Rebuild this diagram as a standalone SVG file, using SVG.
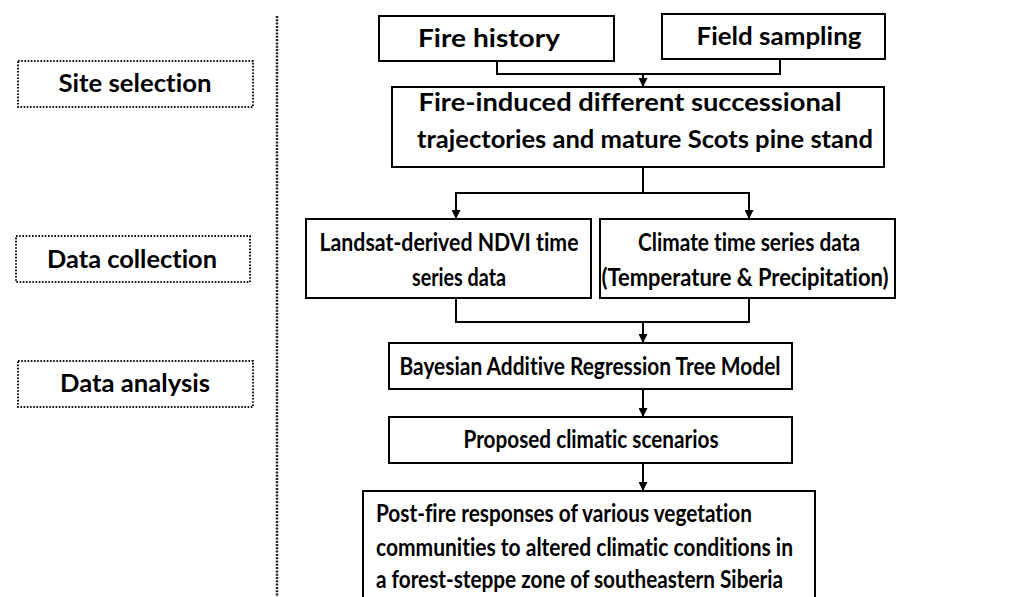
<svg xmlns="http://www.w3.org/2000/svg" width="1030" height="597" viewBox="0 0 1030 597">
<defs>
<style>
.box{fill:#fff;stroke:#000;stroke-width:2}
.dbox{fill:#fff;stroke:#111;stroke-width:2;stroke-dasharray:1.6 1.6}
.t{font-family:Lato,"Liberation Sans",sans-serif;font-weight:bold;font-size:24px;fill:#000;font-variant-ligatures:none;font-feature-settings:"liga" 0,"clig" 0}
.c{stroke:#000;stroke-width:2;fill:none}
</style>
<marker id="ah" viewBox="0 0 10 10" refX="10" refY="5" markerWidth="9" markerHeight="9" markerUnits="userSpaceOnUse" orient="auto">
<path d="M0,0 L10,5 L0,10 z" fill="#000"/>
</marker>
</defs>
<rect width="1030" height="597" fill="#fff"/>
<line x1="277" y1="16" x2="277" y2="597" stroke="#222" stroke-width="2.5" stroke-dasharray="2 1.3"/>
<g id="site-selection">
<rect class="dbox" x="18" y="61" width="235" height="46"/>
<text class="t" x="135" y="92" text-anchor="middle" textLength="153" lengthAdjust="spacingAndGlyphs">Site selection</text>
</g>
<g id="data-collection">
<rect class="dbox" x="16" y="236" width="234" height="46"/>
<text class="t" x="132" y="268" text-anchor="middle" textLength="170" lengthAdjust="spacingAndGlyphs">Data collection</text>
</g>
<g id="data-analysis">
<rect class="dbox" x="18" y="361" width="235" height="46"/>
<text class="t" x="135" y="392" text-anchor="middle" textLength="150" lengthAdjust="spacingAndGlyphs">Data analysis</text>
</g>
<g id="connectors">
<polyline class="c" points="497,61 497,74 780,74 780,59"/>
<line class="c" x1="643" y1="74" x2="643" y2="87" marker-end="url(#ah)"/>
<line class="c" x1="643" y1="167" x2="643" y2="193"/>
<polyline class="c" points="456,219 456,193 749,193 749,219"/>
<line class="c" x1="456" y1="193" x2="456" y2="219" marker-end="url(#ah)"/>
<line class="c" x1="749" y1="193" x2="749" y2="219" marker-end="url(#ah)"/>
<polyline class="c" points="456,298 456,322 749,322 749,298"/>
<line class="c" x1="643" y1="322" x2="643" y2="343" marker-end="url(#ah)"/>
<line class="c" x1="643" y1="389" x2="643" y2="417" marker-end="url(#ah)"/>
<line class="c" x1="643" y1="463" x2="643" y2="491" marker-end="url(#ah)"/>
</g>
<g id="fire-history">
<rect class="box" x="379" y="16" width="235" height="45"/>
<text class="t" x="489" y="47" text-anchor="middle" textLength="142" lengthAdjust="spacingAndGlyphs">Fire history</text>
</g>
<g id="field-sampling">
<rect class="box" x="662" y="14" width="223" height="45"/>
<text class="t" x="779" y="45" text-anchor="middle" textLength="165" lengthAdjust="spacingAndGlyphs">Field sampling</text>
</g>
<g id="fire-induced">
<rect class="box" x="392" y="87" width="492" height="80"/>
<text class="t" x="630" y="111" text-anchor="middle" textLength="423" lengthAdjust="spacingAndGlyphs">Fire-induced different successional</text>
<text class="t" x="645" y="148" text-anchor="middle" textLength="456" lengthAdjust="spacingAndGlyphs">trajectories and mature Scots pine stand</text>
</g>
<g id="landsat">
<rect class="box" x="306" y="219" width="285" height="79"/>
<text class="t" x="449" y="251" text-anchor="middle" textLength="259" lengthAdjust="spacingAndGlyphs">Landsat-derived NDVI time</text>
<text class="t" x="459" y="286" text-anchor="middle" textLength="94" lengthAdjust="spacingAndGlyphs">series data</text>
</g>
<g id="climate">
<rect class="box" x="600" y="219" width="295" height="79"/>
<text class="t" x="749" y="251" text-anchor="middle" textLength="222" lengthAdjust="spacingAndGlyphs">Climate time series data</text>
<text class="t" x="745" y="286" text-anchor="middle" textLength="287" lengthAdjust="spacingAndGlyphs">(Temperature &amp; Precipitation)</text>
</g>
<g id="bart">
<rect class="box" x="389" y="343" width="403" height="46"/>
<text class="t" x="590" y="375" text-anchor="middle" textLength="381" lengthAdjust="spacingAndGlyphs">Bayesian Additive Regression Tree Model</text>
</g>
<g id="scenarios">
<rect class="box" x="389" y="417" width="403" height="46"/>
<text class="t" x="591" y="448" text-anchor="middle" textLength="255" lengthAdjust="spacingAndGlyphs">Proposed climatic scenarios</text>
</g>
<g id="responses">
<rect class="box" x="363" y="491" width="452" height="120"/>
<text class="t" x="376" y="522" textLength="376" lengthAdjust="spacingAndGlyphs">Post-fire responses of various vegetation</text>
<text class="t" x="376" y="556" textLength="417" lengthAdjust="spacingAndGlyphs">communities to altered climatic conditions in</text>
<text class="t" x="376" y="588" textLength="407" lengthAdjust="spacingAndGlyphs">a forest-steppe zone of southeastern Siberia</text>
</g>
</svg>
